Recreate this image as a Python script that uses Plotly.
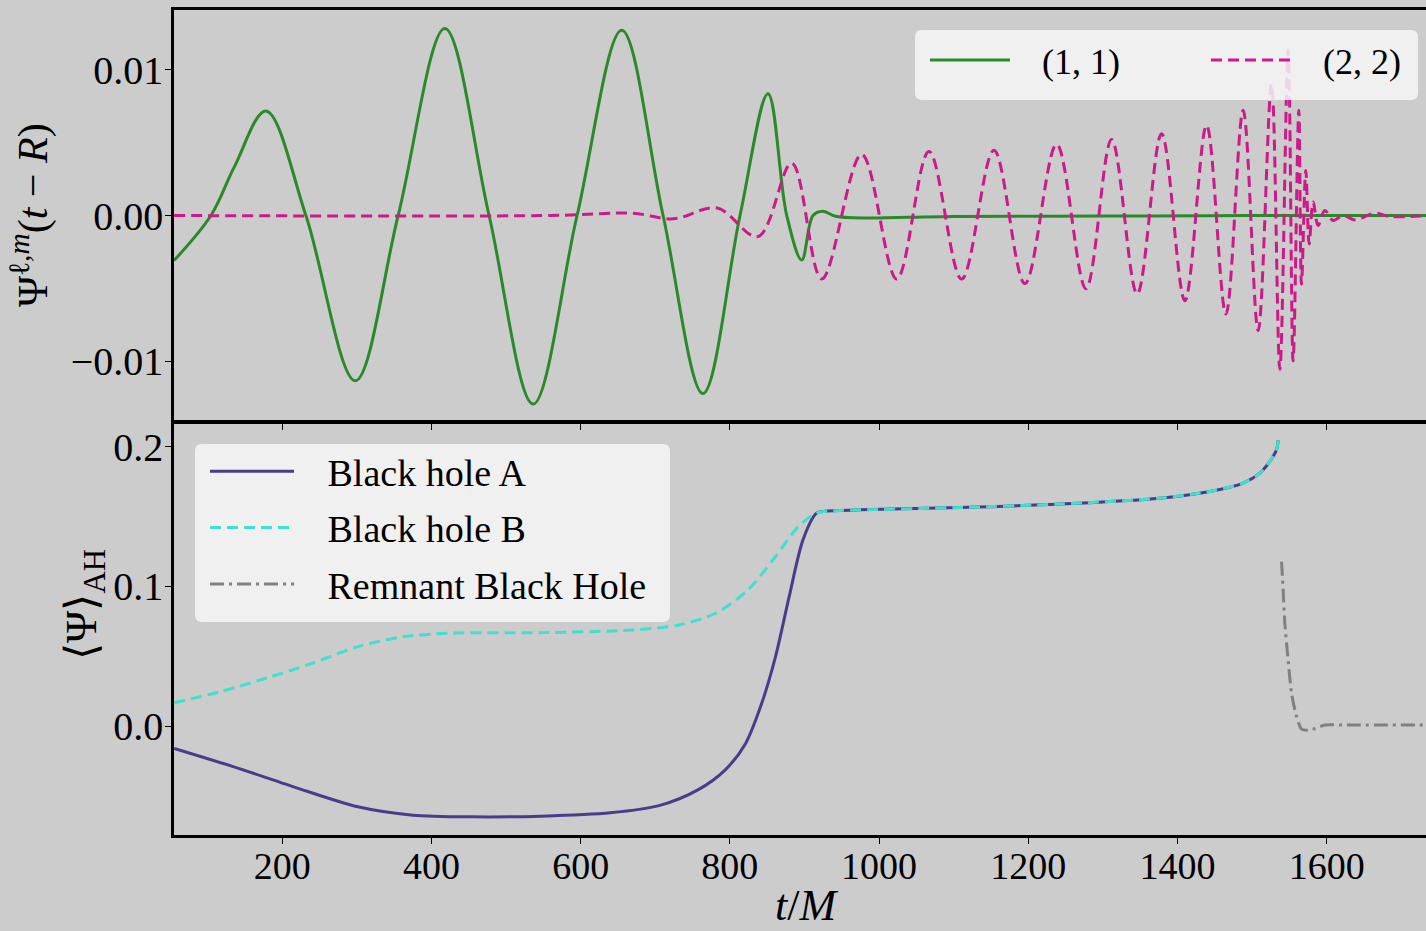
import plotly.graph_objects as go

# ---------------- data ----------------
t_11 = [55, 104.5, 135.7, 178.2, 231.8, 297.8, 355.4, 418, 477.3, 536.3, 595.2, 655.1, 710.5,
        764, 813.6, 851.1, 876.2, 896.3, 911.4, 924.4, 943.2, 1100, 1300, 1500, 1740]
psi_11 = [-0.00309, 0, 0.00332, 0.00717, 0, -0.01134, 0, 0.01283, 0, -0.01294, 0, 0.01271, 0,
          -0.01222, 0, 0.00836, 0, -0.00305, 0, 0.0003, -0.00007, -0.00006, -0.00004, 0, 0]

t_22 = [55, 560, 670, 724, 783, 837.7, 882.9, 923.1, 976.7, 1023.6, 1066.8, 1110.6,
        1153.9, 1195.4, 1237.9, 1277.2, 1311.6, 1345.9, 1378.6, 1409.8, 1438.9, 1464.8,
        1487.9, 1508, 1525.9, 1537.1, 1548.2, 1554.9, 1562.5, 1566.1, 1571.9, 1576.4,
        1581.7, 1588.4, 1597.4, 1608.5, 1621.9, 1637.6, 1664.4, 1684.5, 1740]
psi_22 = [0, 0, 0.00015, -0.00023, 0.00051, -0.00144, 0.00359, -0.00436, 0.00419, -0.00436,
          0.0044, -0.00436, 0.00447, -0.00467, 0.00488, -0.00502, 0.00522, -0.00538, 0.00561,
          -0.00584, 0.00619, -0.00676, 0.00722, -0.0079, 0.00905, -0.01054, 0.01134, -0.00997,
          0.00722, -0.0047, 0.00309, -0.00195, 0.00092, -0.00069, 0.00034, -0.00034, 0,
          -0.0003, 0.00016, -0.00007, 0]

t_A = [55.3, 135.3, 215.3, 301.4, 375.1, 455.1, 547.4, 639.7, 707.4, 756.5, 793.5, 821.1,
       842.7, 861.2, 879.5, 898, 916.5, 947.2, 974.4, 1108.4, 1242.4, 1376.3, 1443.3,
       1487.9, 1510.3, 1523.7, 1532.7, 1534.8]
psi_A = [-0.016, -0.0292, -0.0435, -0.0578, -0.0638, -0.065, -0.0645, -0.0621, -0.0566,
         -0.0459, -0.0315, -0.0124, 0.0163, 0.0497, 0.0927, 0.1333, 0.1525, 0.1543, 0.1548,
         0.1565, 0.159, 0.1632, 0.168, 0.174, 0.1811, 0.1895, 0.1978, 0.2045]

t_B = [55.3, 116.8, 178.3, 239.8, 301.4, 362.9, 424.4, 547.4, 670.4, 731.9, 781.2, 824.3,
       861.2, 891.9, 916.5, 947.2, 974.4, 1108.4, 1242.4, 1376.3, 1443.3, 1487.9, 1510.3,
       1523.7, 1532.7, 1534.8]
psi_B = [0.0167, 0.0246, 0.0342, 0.0449, 0.0569, 0.064, 0.0665, 0.0669, 0.0688, 0.0724,
         0.0808, 0.0975, 0.1214, 0.1429, 0.1525, 0.1543, 0.1548, 0.1565, 0.159, 0.1632,
         0.168, 0.174, 0.1811, 0.1895, 0.1978, 0.2045]

t_R = [1539.4, 1541.5, 1543.8, 1548.2, 1552.8, 1559.5, 1566.2, 1577.3, 1597.4, 1626.5, 1740]
psi_R = [0.1178, 0.0975, 0.0736, 0.0473, 0.0234, 0.0067, -0.0022, -0.0029, 0.0007, 0.0007, 0.0007]

x_ticks = [200, 400, 600, 800, 1000, 1200, 1400, 1600]
top_ticks = [0.01, 0.0, -0.01]
top_ticktext = ["0.01", "0.00", "\u22120.01"]
bot_ticks = [0.0, 0.1, 0.2]
bot_ticktext = ["0.0", "0.1", "0.2"]

# ---------------- styling ----------------
FONT = "Liberation Serif"
BG = "#cccccc"
W, H = 1426, 931
ML, MR, MT, MB = 174, 0, 10, 96
PW = W - ML - MR
PH = H - MT - MB
LW = 3.0


def px_x(p):
    return (p - ML) / PW


def px_y(p):
    return (H - MB - p) / PH


def round_box(x0, y0, x1, y1, r=7):
    X0, X1 = px_x(x0), px_x(x1)
    Y0, Y1 = px_y(y0), px_y(y1)  # Y0 top, Y1 bottom
    rx, ry = r / PW, r / PH
    return (f"M{X0 + rx},{Y0} L{X1 - rx},{Y0} Q{X1},{Y0} {X1},{Y0 - ry} "
            f"L{X1},{Y1 + ry} Q{X1},{Y1} {X1 - rx},{Y1} L{X0 + rx},{Y1} "
            f"Q{X0},{Y1} {X0},{Y1 + ry} L{X0},{Y0 - ry} Q{X0},{Y0} {X0 + rx},{Y0} Z")


GAP1 = "\u2002\u2005"
TRAIL1 = "\u2003\u2003\u2005"

fig = go.Figure()

fig.add_trace(go.Scatter(x=t_11, y=psi_11, mode="lines", name=GAP1 + "(1, 1)" + TRAIL1,
                         line=dict(color="#2a8a2a", width=LW, shape="spline", smoothing=1.0),
                         xaxis="x", yaxis="y", legend="legend"))
fig.add_trace(go.Scatter(x=t_22, y=psi_22, mode="lines", name=GAP1 + "(2, 2)",
                         line=dict(color="#cc1a8a", width=LW, dash="11px,6px",
                                   shape="spline", smoothing=1.0),
                         xaxis="x", yaxis="y", legend="legend"))

GAP2 = "\u2002\u2005"
fig.add_trace(go.Scatter(x=t_A, y=psi_A, mode="lines", name=GAP2 + "Black hole A",
                         line=dict(color="#483d8b", width=LW, shape="spline", smoothing=0.8),
                         xaxis="x2", yaxis="y2", legend="legend2", legendgroup="a"))
fig.add_trace(go.Scatter(x=t_B, y=psi_B, mode="lines", name=GAP2 + "Black hole B",
                         line=dict(color="#40e0d0", width=LW, dash="11px,6px",
                                   shape="spline", smoothing=0.8),
                         xaxis="x2", yaxis="y2", legend="legend2", legendgroup="b"))
fig.add_trace(go.Scatter(x=t_R, y=psi_R, mode="lines", name=GAP2 + "Remnant Black Hole",
                         line=dict(color="#808080", width=LW, dash="14px,5px,3px,5px",
                                   shape="spline", smoothing=0.6),
                         xaxis="x2", yaxis="y2", legend="legend2", legendgroup="c"))

axis_common = dict(showgrid=False, zeroline=False, showline=True, linecolor="black",
                   linewidth=2.5, ticks="outside", tickcolor="black", ticklen=6, tickwidth=1.3)

xfont = dict(family=FONT, size=38, color="black")
yfont = dict(family=FONT, size=40, color="black")

fig.update_layout(
    width=W, height=H,
    margin=dict(l=ML, r=MR, t=MT, b=MB),
    paper_bgcolor=BG, plot_bgcolor=BG,
    font=dict(family=FONT, color="black"),
    showlegend=True,
    xaxis=dict(axis_common, domain=[0, 1], anchor="y", range=[55, 1733], matches="x2",
               tickvals=x_ticks, showticklabels=False, mirror=True),
    yaxis=dict(axis_common, domain=[0.5018, 1], anchor="x", range=[-0.0141, 0.0141],
               tickvals=top_ticks, ticktext=top_ticktext, tickfont=yfont,
               ticklabelstandoff=-6),
    xaxis2=dict(axis_common, domain=[0, 1], anchor="y2", range=[55, 1733],
                tickvals=x_ticks, mirror=True, tickfont=xfont, ticklabelstandoff=-10),
    yaxis2=dict(axis_common, domain=[0, 0.4994], anchor="x2", range=[-0.078, 0.217],
                tickvals=bot_ticks, ticktext=bot_ticktext, tickfont=yfont,
                ticklabelstandoff=-6),
    legend=dict(x=px_x(925), y=px_y(30), xanchor="left", yanchor="top",
                orientation="h", bgcolor="rgba(0,0,0,0)", borderwidth=0,
                font=dict(family=FONT, size=36, color="black"),
                itemwidth=80),
    legend2=dict(x=px_x(205), y=px_y(440), xanchor="left", yanchor="top",
                 orientation="v", bgcolor="rgba(0,0,0,0)", borderwidth=0,
                 font=dict(family=FONT, size=38, color="black"),
                 tracegroupgap=4, itemwidth=84),
    shapes=[
        dict(type="path", xref="paper", yref="paper", path=round_box(915, 30, 1418, 100),
             fillcolor="rgba(246,246,246,0.85)", line=dict(width=0), layer="above"),
        dict(type="path", xref="paper", yref="paper", path=round_box(195, 444, 670, 622),
             fillcolor="rgba(246,246,246,0.85)", line=dict(width=0), layer="above"),
    ],
    annotations=[
        dict(text="\u03a8<sup>\u2113,<i>m</i></sup>(<i>t</i> \u2212 <i>R</i>)", xref="paper", yref="paper",
             x=px_x(30), y=px_y(215), xanchor="center", yanchor="middle", textangle=-90,
             showarrow=False, font=dict(family=FONT, size=42, color="black")),
        dict(text="\u27e8\u03a8\u27e9<sub>AH</sub>", xref="paper", yref="paper",
             x=px_x(84), y=px_y(605), xanchor="center", yanchor="middle", textangle=-90,
             showarrow=False, font=dict(family=FONT, size=44, color="black")),
        dict(text="<i>t</i>/<i>M</i>", xref="paper", yref="paper",
             x=px_x(806), y=px_y(906), xanchor="center", yanchor="middle",
             showarrow=False, font=dict(family=FONT, size=44, color="black")),
    ],
)

fig.write_html("out.html")
